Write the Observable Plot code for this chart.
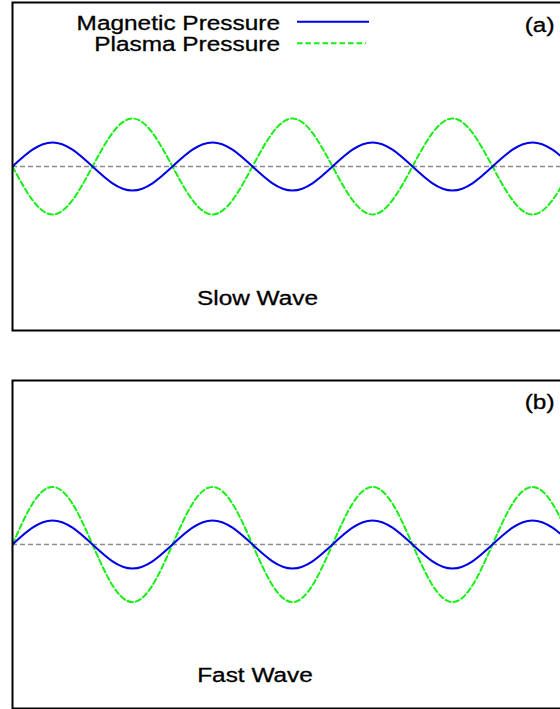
<!DOCTYPE html>
<html>
<head>
<meta charset="utf-8">
<script src="https://cdn.jsdelivr.net/npm/d3@7"></script>
<script src="https://cdn.jsdelivr.net/npm/@observablehq/plot@0.6"></script>
<style>
  html, body { margin: 0; padding: 0; background: #fff; overflow: hidden; }
  #chart { width: 560px; height: 709px; overflow: hidden; position: relative; }
  #chart svg { display: block; max-width: none !important; }
</style>
</head>
<body>
<div id="chart"></div>
<script>
// Sample positions along the wave, in eighths of a wavelength
const phase = [0, 1, 2, 3, 4, 5, 6, 7, 8, 9, 10, 11, 12, 13, 14, 15, 16, 17, 18, 19, 20, 21, 22, 23, 24, 25, 26, 27, 28];

// Slow mode: magnetic and plasma pressure perturbations in antiphase
const magneticSlow = [0, 0.7, 1, 0.7, 0, -0.7, -1, -0.7, 0, 0.7, 1, 0.7, 0, -0.7, -1, -0.7, 0, 0.7, 1, 0.7, 0, -0.7, -1, -0.7, 0, 0.7, 1, 0.7, 0];
const plasmaSlow = [0, -1.4, -2, -1.4, 0, 1.4, 2, 1.4, 0, -1.4, -2, -1.4, 0, 1.4, 2, 1.4, 0, -1.4, -2, -1.4, 0, 1.4, 2, 1.4, 0, -1.4, -2, -1.4, 0];

// Fast mode: both perturbations in phase
const magneticFast = [0, 0.7, 1, 0.7, 0, -0.7, -1, -0.7, 0, 0.7, 1, 0.7, 0, -0.7, -1, -0.7, 0, 0.7, 1, 0.7, 0, -0.7, -1, -0.7, 0, 0.7, 1, 0.7, 0];
const plasmaFast = [0, 1.7, 2.4, 1.7, 0, -1.7, -2.4, -1.7, 0, 1.7, 2.4, 1.7, 0, -1.7, -2.4, -1.7, 0, 1.7, 2.4, 1.7, 0, -1.7, -2.4, -1.7, 0, 1.7, 2.4, 1.7, 0];

const seriesNames = ["Magnetic Pressure", "Plasma Pressure"];
const panelTags = ["(a)", "(b)"];
const panelTitles = ["Slow Wave", "Fast Wave"];

const BLUE = "#0000e6";
const GREEN = "#14f014";
const GRAY = "#8c8c8c";
const FONT = "'Liberation Sans', Arial, Helvetica, sans-serif";
const STRETCH = 1.22;

function rows(values) {
  return phase.map((p, i) => ({p, v: values[i]}));
}

function panel({magnetic, plasma, tag, title, height, marginTop, marginBottom, tagDy, titleDx, titleDy}) {
  return Plot.plot({
    width: 564,
    height,
    marginLeft: 12,
    marginRight: 0,
    marginTop,
    marginBottom,
    style: {fontFamily: FONT, background: "transparent", overflow: "visible", maxWidth: "none"},
    x: {domain: [0, 27.6], axis: null},
    y: {domain: [-6.833, 6.833], axis: null},
    marks: [
      Plot.ruleY([0], {stroke: GRAY, strokeWidth: 1.5, strokeDasharray: "5,3"}),
      Plot.line(rows(plasma), {x: "p", y: "v", curve: "natural", stroke: GREEN, strokeWidth: 2, strokeDasharray: "5.5,3", clip: true}),
      Plot.line(rows(magnetic), {x: "p", y: "v", curve: "natural", stroke: BLUE, strokeWidth: 2, clip: true}),
      Plot.frame({stroke: "#000", strokeWidth: 2}),
      Plot.text([tag], {frameAnchor: "top-right", textAnchor: "end", lineAnchor: "bottom", dx: -10, dy: tagDy, fontSize: 20, fill: "#000"}),
      Plot.text([title], {frameAnchor: "bottom", textAnchor: "middle", lineAnchor: "bottom", dx: titleDx, dy: titleDy, fontSize: 20, fill: "#000"})
    ]
  });
}

const chart = document.getElementById("chart");

const slow = panel({
  magnetic: magneticSlow, plasma: plasmaSlow,
  tag: panelTags[0], title: panelTitles[0],
  height: 356, marginTop: 2, marginBottom: 26,
  tagDy: 29.8, titleDx: -31, titleDy: -26
});
const fast = panel({
  magnetic: magneticFast, plasma: plasmaFast,
  tag: panelTags[1], title: panelTitles[1],
  height: 353, marginTop: 24, marginBottom: 1,
  tagDy: 28.5, titleDx: -33.5, titleDy: -26.3
});
chart.appendChild(slow);
chart.appendChild(fast);

// Legend drawn inside the top panel
const legend = d3.select(slow).append("g").attr("font-family", FONT).attr("font-size", 20);
const legendItems = [
  {name: seriesNames[0], color: BLUE, dash: null, baseline: 30, lineY: 21.7, x2: 369},
  {name: seriesNames[1], color: GREEN, dash: "5.5,3", baseline: 50.5, lineY: 43.3, x2: 366}
];
for (const item of legendItems) {
  legend.append("text")
    .attr("x", 280).attr("y", item.baseline)
    .attr("text-anchor", "end").attr("fill", "#000")
    .text(item.name);
  legend.append("line")
    .attr("x1", 297).attr("x2", item.x2)
    .attr("y1", item.lineY).attr("y2", item.lineY)
    .attr("stroke", item.color).attr("stroke-width", 2)
    .attr("stroke-dasharray", item.dash);
}

// Widen all lettering horizontally and give it a slightly heavier ink
for (const svg of [slow, fast]) {
  svg.querySelectorAll("text").forEach(t => {
    const len = t.getComputedTextLength();
    if (len > 0) {
      t.setAttribute("textLength", (len * STRETCH).toFixed(1));
      t.setAttribute("lengthAdjust", "spacingAndGlyphs");
    }
    t.setAttribute("stroke", "#000");
    t.setAttribute("stroke-width", "0.3");
  });
}
</script>
</body>
</html>
